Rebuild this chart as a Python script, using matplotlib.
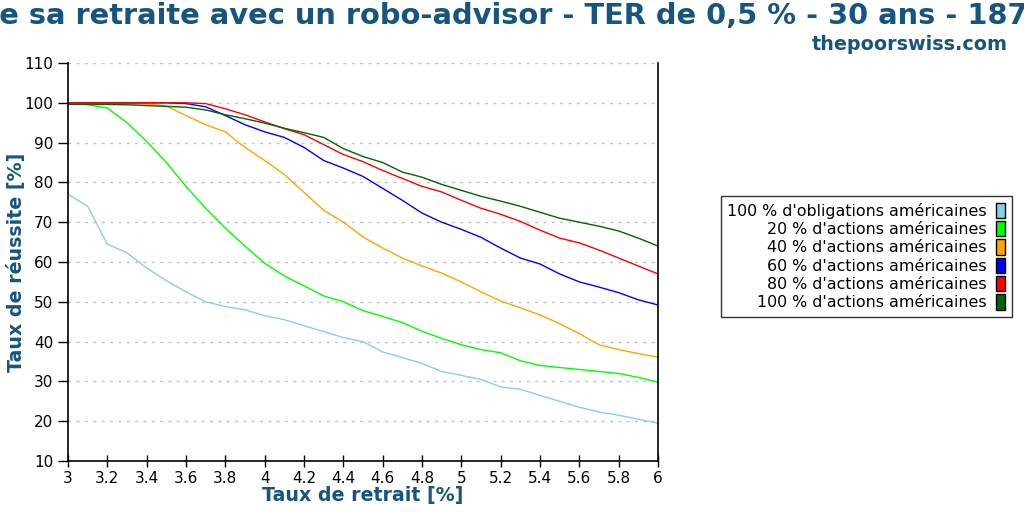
import matplotlib
matplotlib.use("Agg")
import matplotlib.pyplot as plt
from matplotlib.patches import Patch
from matplotlib.ticker import FuncFormatter
import numpy as np

# taux de retrait (%)
rates = [3.0, 3.1, 3.2, 3.3, 3.4, 3.5, 3.6, 3.7, 3.8, 3.9,
         4.0, 4.1, 4.2, 4.3, 4.4, 4.5, 4.6, 4.7, 4.8, 4.9,
         5.0, 5.1, 5.2, 5.3, 5.4, 5.5, 5.6, 5.7, 5.8, 5.9, 6.0]

bonds100 = [77, 74, 64.5, 62.3, 58.5, 55.3, 52.5, 50, 48.8, 48,
            46.5, 45.5, 44, 42.5, 41, 40, 37.4, 36, 34.5, 32.5,
            31.5, 30.5, 28.6, 28, 26.5, 25, 23.5, 22.3, 21.5, 20.5, 19.5]
stocks20 = [100, 99.5, 98.7, 95, 90.3, 85, 79, 73.5, 68.5, 64,
            59.7, 56.5, 54, 51.5, 50, 47.8, 46.3, 44.8, 42.6, 40.8,
            39.2, 38, 37.2, 35.2, 34, 33.5, 33, 32.5, 32, 31, 29.8]
stocks40 = [99.8, 99.8, 99.8, 99.8, 99.7, 99.2, 96.8, 94.5, 92.7, 88.8,
            85.5, 82, 77.5, 73, 70, 66.3, 63.5, 61, 59, 57.2,
            55, 52.5, 50.2, 48.5, 46.7, 44.5, 42, 39.2, 38, 37, 36.1]
stocks60 = [100, 100, 100, 100, 100, 100, 99.8, 99, 96.8, 94.5,
            92.7, 91.3, 88.8, 85.5, 83.6, 81.5, 78.5, 75.5, 72.3, 70,
            68.2, 66.2, 63.5, 61, 59.5, 57, 55, 53.7, 52.3, 50.5, 49.2]
stocks80 = [100, 100, 100, 100, 100, 100, 100, 99.8, 98.5, 97,
            95.2, 93.5, 92, 89.5, 87, 85.2, 83, 81, 79, 77.6,
            75.5, 73.5, 72, 70.2, 68, 66, 64.8, 63, 61, 59, 57]
stocks100 = [99.6, 99.6, 99.6, 99.5, 99.3, 99.1, 98.9, 98.2, 97, 96,
             94.9, 93.6, 92.5, 91.3, 88.5, 86.5, 85, 82.6, 81.3, 79.5,
             78, 76.5, 75.3, 74, 72.5, 71, 70, 69, 67.8, 66, 64]

series = [bonds100, stocks20, stocks40, stocks60, stocks80, stocks100]
labels = ["100 % d'obligations américaines",
          "20 % d'actions américaines",
          "40 % d'actions américaines",
          "60 % d'actions américaines",
          "80 % d'actions américaines",
          "100 % d'actions américaines"]
colors = ["#87ceeb", "#00ff00", "#ffa500", "#0000ff", "#ff0000", "#006400"]

title = "Réussite de sa retraite avec un robo-advisor - TER de 0,5 % - 30 ans - 1871-2022"
prefix = "Réussite d"
blue = "#15557f"

fig = plt.figure(figsize=(10.24, 5.12), dpi=100)
ax = fig.add_axes([68 / 1024, 1 - 461 / 512, 590 / 1024, 398 / 512])

for ys, c in zip(series, colors):
    ax.plot(rates, ys, color=c, lw=1.0)

ax.set_xlim(3, 6)
ax.set_ylim(10, 110)
ax.set_xticks(np.arange(3, 6.01, 0.2))
ax.set_yticks(range(10, 111, 10))
ax.xaxis.set_major_formatter(FuncFormatter(lambda v, p: "%g" % round(v, 1)))
ax.tick_params(direction="inout", length=8, width=1, labelsize=11, colors="black")
ax.tick_params(axis="y", direction="out", length=7)
ax.spines["top"].set_visible(False)
for s in ["left", "bottom", "right"]:
    ax.spines[s].set_linewidth(1.2)
for y in range(20, 111, 10):
    ax.axhline(y, color="#c0c0c0", lw=1, ls=(0, (2, 4)), zorder=0)

ax.set_xlabel("Taux de retrait [%]", fontsize=13.7, fontweight="bold", color=blue, va="center")
ax.set_ylabel("Taux de réussite [%]", fontsize=13.7, fontweight="bold", color=blue, va="center")
ax.xaxis.set_label_coords(0.5, (461 - 496) / 398)
ax.yaxis.set_label_coords((17 - 68) / 590, 0.5)

handles = [Patch(facecolor=c, edgecolor="black", lw=1) for c in colors]
leg = fig.legend(handles, labels, loc="center left", bbox_to_anchor=(721 / 1024, 0.499),
                 markerfirst=False, fontsize=11.4, frameon=True, fancybox=False,
                 handlelength=0.55, handleheight=1.1, handletextpad=0.6,
                 labelspacing=0.15, borderpad=0.4, borderaxespad=0, alignment="right")
leg.get_frame().set_edgecolor("black")
leg.get_frame().set_linewidth(1)
for t in leg.get_texts():
    t.set_ha("right")

fig.text(1008 / 1024, 1 - 45 / 512, "thepoorswiss.com", ha="right", va="center",
         fontsize=13.8, fontweight="bold", color=blue)

# title: wider than the figure, clipped on both sides
fig.canvas.draw()
r = fig.canvas.get_renderer()
tmp = fig.text(0, 0, prefix, fontsize=20.8, fontweight="bold")
w = tmp.get_window_extent(r).width
tmp.remove()
fig.text((-w - 1) / 1024, 1 - 16 / 512, title, ha="left", va="center",
         fontsize=20.8, fontweight="bold", color=blue)

fig.savefig("out.png", dpi=100)
